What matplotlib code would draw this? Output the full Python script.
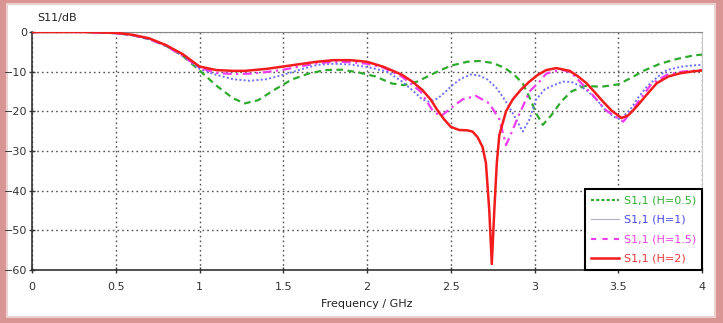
import matplotlib
matplotlib.use("Agg")
import matplotlib.pyplot as plt
from matplotlib.patches import Rectangle
from matplotlib.lines import Line2D

# ---- data ----
green_f = [0, 0.3, 0.5, 0.6, 0.7, 0.8, 0.9, 1.0, 1.1, 1.2, 1.27, 1.35, 1.45, 1.55, 1.65, 1.75,
           1.85, 1.95, 2.05, 2.15, 2.22, 2.3, 2.42, 2.5, 2.6, 2.67, 2.75, 2.82, 2.88, 2.93, 2.97,
           3.01, 3.05, 3.1, 3.16, 3.22, 3.3, 3.4, 3.5, 3.58, 3.65, 3.75, 3.85, 3.95, 4.0]
green_db = [0, 0, -0.3, -0.8, -1.8, -3.5, -6, -9.7, -13.5, -16.7, -18, -17.2, -14.5, -12, -10.5, -9.6,
            -9.5, -10.2, -11.2, -13, -13.4, -12.5, -10, -8.5, -7.5, -7.3, -7.8, -9, -10.8, -13, -16.5,
            -20.5, -23.4, -21, -17.5, -15, -13.6, -13.8, -13.2, -11.5, -9.8, -8, -6.8, -5.9, -5.7]

blue_f = [0, 0.3, 0.5, 0.6, 0.7, 0.8, 0.9, 1.0, 1.1, 1.2, 1.3, 1.4, 1.5, 1.6, 1.7, 1.8, 1.9, 2.0,
          2.12, 2.21, 2.28, 2.33, 2.37, 2.42, 2.46, 2.51, 2.56, 2.62, 2.67, 2.72, 2.77, 2.81, 2.85,
          2.89, 2.93, 2.97, 3.01, 3.06, 3.11, 3.17, 3.22, 3.27, 3.32, 3.37, 3.42, 3.47, 3.51, 3.57,
          3.62, 3.67, 3.73, 3.79, 3.87, 3.95, 4.0]
blue_db = [0, 0, -0.3, -0.8, -1.8, -3.5, -6, -9.3, -10.8, -11.9, -12.3, -11.9, -10.8, -9.5, -8.3, -8,
           -8.2, -8.8, -10, -12.5, -15, -17, -17.6, -16.8, -15.4, -13.4, -11.8, -10.7, -11, -12, -14,
           -16.3, -19, -22, -25.1, -22, -17, -14.5, -13.5, -12.5, -12.6, -13.5, -15, -17, -19.5,
           -21.3, -22, -19.7, -16.5, -13.8, -11.5, -9.6, -8.8, -8.4, -8.3]

mag_f = [0, 0.3, 0.5, 0.6, 0.7, 0.8, 0.9, 1.0, 1.1, 1.2, 1.3, 1.4, 1.5, 1.6, 1.7, 1.8, 1.9, 2.0,
         2.1, 2.21, 2.32, 2.39, 2.44, 2.5, 2.57, 2.65, 2.73, 2.79, 2.83, 2.87, 2.9, 2.93, 2.97,
         3.03, 3.07, 3.12, 3.17, 3.22, 3.27, 3.35, 3.42, 3.47, 3.53, 3.58, 3.63, 3.7, 3.79, 3.88, 4.0]
mag_db = [0, 0, -0.3, -0.8, -1.8, -3.5, -6, -9, -10.3, -10.6, -10.5, -10.1, -9.5, -8.7, -7.9, -7.5,
          -7.6, -8, -9, -11.3, -15, -19.7, -21.3, -19.2, -17, -16.1, -18, -22, -28.5, -24.7, -21.5,
          -18.8, -15, -12.5, -10.5, -9.9, -9.6, -10.2, -12.5, -16, -19.5, -21, -22.6, -20, -17,
          -13, -10.8, -10, -9.6]

red_f = [0, 0.3, 0.5, 0.6, 0.7, 0.8, 0.9, 1.0, 1.1, 1.2, 1.27, 1.4, 1.5, 1.6, 1.7, 1.8, 1.9, 2.0,
         2.1, 2.21, 2.27, 2.33, 2.38, 2.42, 2.46, 2.5, 2.55, 2.6, 2.63, 2.66, 2.69, 2.71, 2.73,
         2.745, 2.76, 2.775, 2.79, 2.83, 2.87, 2.92, 2.97, 3.02, 3.07, 3.13, 3.21, 3.26, 3.31,
         3.36, 3.41, 3.46, 3.52, 3.56, 3.61, 3.67, 3.73, 3.8, 3.87, 3.95, 4.0]
red_db = [0, 0, -0.2, -0.7, -1.6, -3.3, -5.6, -8.7, -9.6, -9.8, -9.8, -9.3, -8.7, -8.1, -7.5, -7.1,
          -7.1, -7.5, -8.8, -10.8, -12.5, -14.6, -17, -19.7, -22, -23.9, -24.7, -24.8, -25.1,
          -26.5, -29, -33, -45, -58.5, -45, -33, -26, -20, -17, -14.5, -12.5, -10.8, -9.6, -9.1,
          -9.8, -11.2, -12.9, -15.2, -17.6, -19.8, -21.7, -21, -18.8, -15.8, -12.9, -11.2, -10.4,
          -9.9, -9.7]

x_ticks = [0, 0.5, 1, 1.5, 2, 2.5, 3, 3.5, 4]
x_labels = ["0", "0.5", "1", "1.5", "2", "2.5", "3", "3.5", "4"]
y_ticks = [0, -10, -20, -30, -40, -50, -60]
labels = ["S1,1 (H=0.5)", "S1,1 (H=1)", "S1,1 (H=1.5)", "S1,1 (H=2)"]

# ---- figure ----
fig = plt.figure(figsize=(7.23, 3.23), dpi=100)
fig.patch.set_facecolor("#d99593")
W, H = 723, 323
fig.patches.append(Rectangle((7 / W, 6 / H), (715 - 7) / W, (319 - 6) / H,
                             transform=fig.transFigure, facecolor="white",
                             edgecolor="#ecd0d0", lw=1.5, zorder=-10))

ax = fig.add_axes([32 / W, 1 - 270 / H, (702 - 32) / W, (270 - 32) / H])
ax.set_facecolor("white")
ax.set_zorder(1)

c_green = "#2faa2f"
c_blue = "#6f6ff5"
c_mag = "#f03cf0"
c_red = "#f21c1c"

ax.plot(green_f, green_db, color=c_green, lw=1.6, ls=(0, (3, 2)), zorder=3)
ax.plot(blue_f, blue_db, color=c_blue, lw=1.4, ls=(0, (1, 1.2)), zorder=4)
ax.plot(mag_f, mag_db, color=c_mag, lw=1.6, ls=(0, (4, 2, 1, 2)), zorder=5)
ax.plot(red_f, red_db, color=c_red, lw=1.8, ls="-", zorder=6)

ax.set_xlim(0, 4)
ax.set_ylim(-60, 0)
ax.set_xticks(x_ticks)
ax.set_xticklabels(x_labels)
ax.set_yticks(y_ticks)
ax.grid(True, color="#555555", ls=(0, (1.2, 2.2)), lw=1.0)
ax.set_axisbelow(True)

for s in ["left", "bottom"]:
    ax.spines[s].set_color("#333333")
    ax.spines[s].set_linewidth(1.2)
ax.spines["top"].set_color("#888888")
ax.spines["right"].set_color("#c8c8c8")
ax.tick_params(axis="both", direction="inout", length=5, width=1, color="#333333",
               labelsize=8, labelcolor="#333333")
ax.tick_params(axis="x", pad=6)
ax.tick_params(axis="y", pad=1)

fig.text(37 / W, 1 - 18 / H, "S11/dB", fontsize=8, color="#222222", va="center", ha="left")
fig.text(367 / W, 1 - 304 / H, "Frequency / GHz", fontsize=8, color="#222222",
         va="center", ha="center")

handles = [Line2D([], [], color=c_green, lw=1.5, ls=(0, (1.5, 1))),
           Line2D([], [], color="#b0b0c8", lw=0.8, ls="-"),
           Line2D([], [], color=c_mag, lw=1.5, ls=(0, (2.5, 3))),
           Line2D([], [], color=c_red, lw=1.8, ls="-")]
leg = ax.legend(handles, labels, loc="lower right", bbox_to_anchor=(1.0, 0.0),
                fontsize=8, frameon=True, fancybox=False, framealpha=1,
                edgecolor="black", borderaxespad=0, handlelength=2.5,
                handletextpad=0.4, labelspacing=0.85, borderpad=0.55)
leg.get_frame().set_linewidth(1.5)
for t, c in zip(leg.get_texts(), ["#33b033", "#4848e8", "#e844e8", "#e83a3a"]):
    t.set_color(c)
leg.set_zorder(10)

fig.savefig("out.png", dpi=100, facecolor=fig.get_facecolor())
